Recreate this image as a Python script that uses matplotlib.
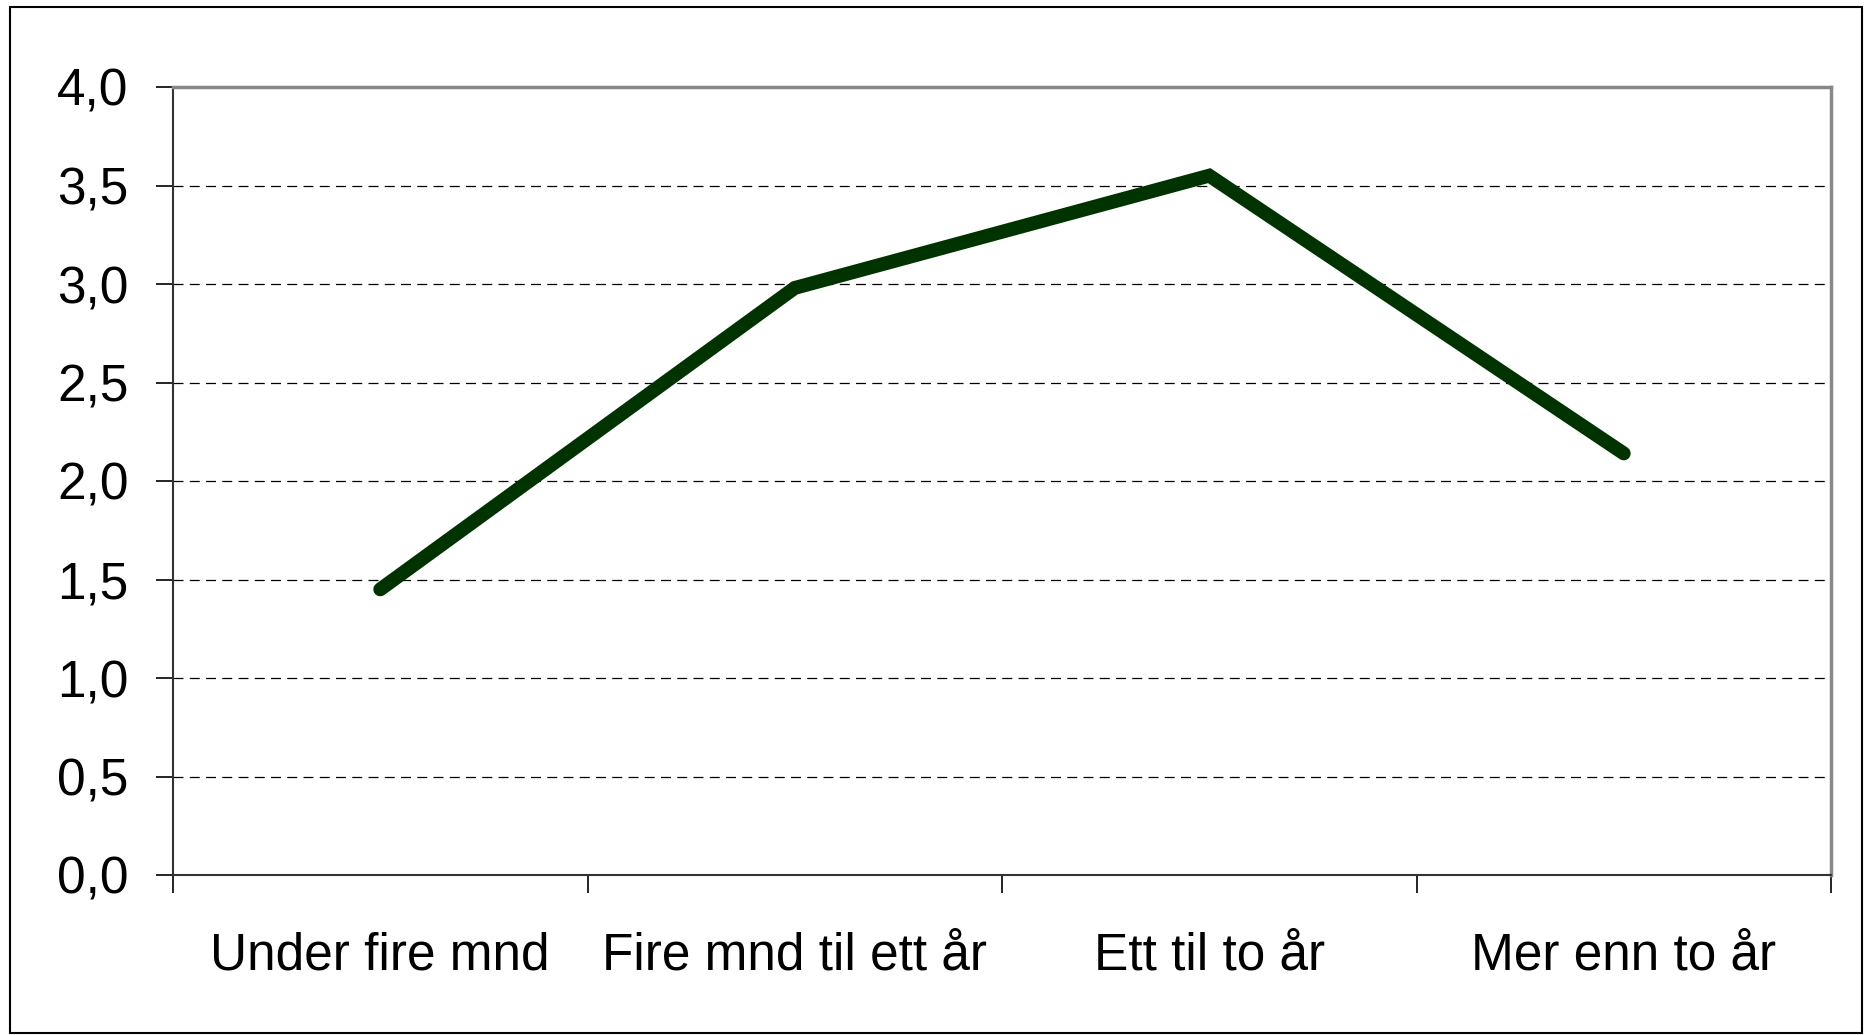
import numpy as np
import matplotlib.pyplot as plt
from matplotlib.ticker import FuncFormatter
from matplotlib.patches import Rectangle

# Categories and values
categories = ["Under fire mnd", "Fire mnd til ett år", "Ett til to år", "Mer enn to år"]
values = [1.45, 2.98, 3.55, 2.14]
y_ticks = [0.0, 0.5, 1.0, 1.5, 2.0, 2.5, 3.0, 3.5, 4.0]

plt.rcParams['font.family'] = ["Liberation Sans", "DejaVu Sans"]
fsize = 37

W, H = 1870, 1035
fig = plt.figure(figsize=(W / 100, H / 100), dpi=100)

# Plot area placed in pixels
left, right, top, bottom = 173, 1831, 87, 875
ax = fig.add_axes([left / W, 1 - bottom / H, (right - left) / W, (bottom - top) / H])

x = np.arange(len(categories))
ax.plot(x, values, color='#003300', lw=10, solid_capstyle='round',
        solid_joinstyle='miter', zorder=3)

ax.set_xlim(-0.5, len(categories) - 0.5)
ax.set_ylim(0, 4)

# x ticks go on the category boundaries, labels in the middle
ax.set_xticks(np.arange(len(categories) + 1) - 0.5)
ax.set_xticklabels([])
ax.set_xticks(x, minor=True)
ax.set_xticklabels(categories, minor=True, fontsize=fsize)
ax.tick_params(axis='x', which='minor', length=0, pad=41)
ax.tick_params(axis='x', which='major', length=13, width=1.2, color='black')

ax.set_yticks(y_ticks)
ax.yaxis.set_major_formatter(FuncFormatter(lambda v, p: f"{v:.1f}".replace('.', ',')))
ax.tick_params(axis='y', length=12, width=1.2, color='black', pad=20, labelsize=fsize)

# dashed grid lines
for yv in y_ticks[1:-1]:
    ax.axhline(yv, color='black', lw=0.9, ls=(0, (8, 5)), zorder=1)

# Excel-style plot border
ax.spines['left'].set_color('#333333')
ax.spines['bottom'].set_color('#333333')
ax.spines['left'].set_linewidth(1.5)
ax.spines['bottom'].set_linewidth(1.5)
ax.spines['top'].set_color('#888888')
ax.spines['right'].set_color('#888888')
ax.spines['top'].set_linewidth(2.5)
ax.spines['right'].set_linewidth(2.5)

# outer chart frame
fig.patches.append(Rectangle((10 / W, 2 / H), 1852 / W, 1026 / H, transform=fig.transFigure,
                             fill=False, edgecolor='black', lw=1.5))

fig.savefig('out.png', dpi=100)
